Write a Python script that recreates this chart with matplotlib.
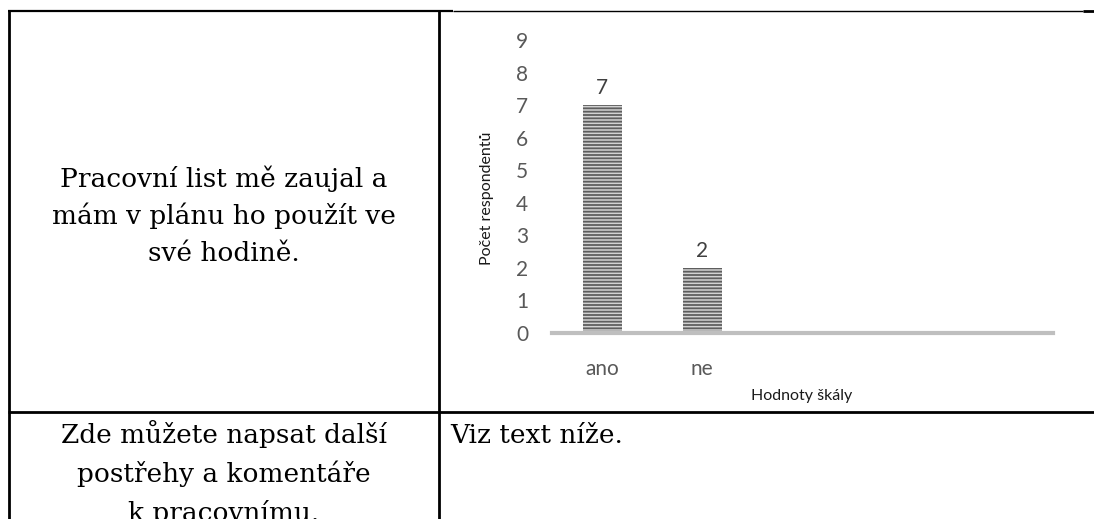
import matplotlib
matplotlib.use('Agg')
import matplotlib.pyplot as plt
from matplotlib.lines import Line2D

W, H = 1094, 519

# chart data
categories = ['ano', 'ne']
counts = [7, 2]
n_slots = 5          # the scale had 5 slots, only two of them used
y_ticks = list(range(0, 10))

# table texts
left_top = ['Pracovní list mě zaujal a', 'mám v plánu ho použít ve', 'své hodině.']
left_bottom = ['Zde můžete napsat další', 'postřehy a komentáře', 'k pracovnímu.']
right_bottom = 'Viz text níže.'

plt.rcParams['hatch.linewidth'] = 1.3
SANS = ['Lato', 'DejaVu Sans']
SERIF = ['DejaVu Serif']


def fx(x):
    return x / W


def fy(y):
    return 1 - y / H


def hline(fig, x0, x1, y, lw):
    fig.add_artist(Line2D([fx(x0), fx(x1)], [fy(y), fy(y)], color='black',
                          linewidth=lw, transform=fig.transFigure, solid_capstyle='butt'))


def vline(fig, x, y0, y1, lw):
    fig.add_artist(Line2D([fx(x), fx(x)], [fy(y0), fy(y1)], color='black',
                          linewidth=lw, transform=fig.transFigure, solid_capstyle='butt'))


fig = plt.figure(figsize=(W / 100, H / 100), dpi=100)

# table borders
hline(fig, 8, 453, 11, 1.6)
hline(fig, 453, 1083, 11, 1.0)
hline(fig, 1083, 1094, 11, 2.0)
hline(fig, 8, 1094, 412, 2.0)
vline(fig, 9, 10, 519, 2.0)
vline(fig, 439, 10, 519, 2.0)

# table texts
for i, line in enumerate(left_top):
    fig.text(fx(224), fy(187 + i * 37), line, family=SERIF, fontsize=19,
             ha='center', va='baseline')
for i, line in enumerate(left_bottom):
    fig.text(fx(224), fy(443 + i * 39), line, family=SERIF, fontsize=19,
             ha='center', va='baseline')
fig.text(fx(450), fy(443), right_bottom, family=SERIF, fontsize=19,
         ha='left', va='baseline')

# chart
ax = fig.add_axes([fx(552), fy(333), fx(1053) - fx(552), fy(40) - fy(333)])
x = list(range(len(categories)))
bars = ax.bar(x, counts, width=0.39, color='#d2d2d2', edgecolor='#5e5e5e',
              hatch='-----', linewidth=0, zorder=2)
for b, v in zip(bars, counts):
    ax.annotate(str(v), (b.get_x() + b.get_width() / 2, v), xytext=(0, 5),
                textcoords='offset points', ha='center', va='bottom',
                fontsize=15, color='#404040', family=SANS)

ax.set_xlim(-0.5, n_slots - 0.5)
ax.set_ylim(0, 9)
ax.set_yticks(y_ticks)
ax.set_xticks(x)
ax.set_xticklabels(categories)
ax.tick_params(axis='both', length=0, labelsize=15, labelcolor='#595959')
ax.tick_params(axis='y', pad=17)
ax.tick_params(axis='x', pad=19)
for lab in ax.get_xticklabels() + ax.get_yticklabels():
    lab.set_family(SANS)
for s in ['left', 'top', 'right']:
    ax.spines[s].set_visible(False)
ax.spines['bottom'].set_color('#bfbfbf')
ax.spines['bottom'].set_linewidth(3)
ax.spines['bottom'].set_zorder(3)

fig.text(fx(487), fy(198), 'Počet respondentů', rotation=90, fontsize=11.5,
         family=SANS, ha='center', va='center', color='#1a1a1a')
fig.text(fx(802), fy(396), 'Hodnoty škály', fontsize=11.5, family=SANS,
         ha='center', va='center', color='#1a1a1a')

fig.savefig('out.png', dpi=100)
